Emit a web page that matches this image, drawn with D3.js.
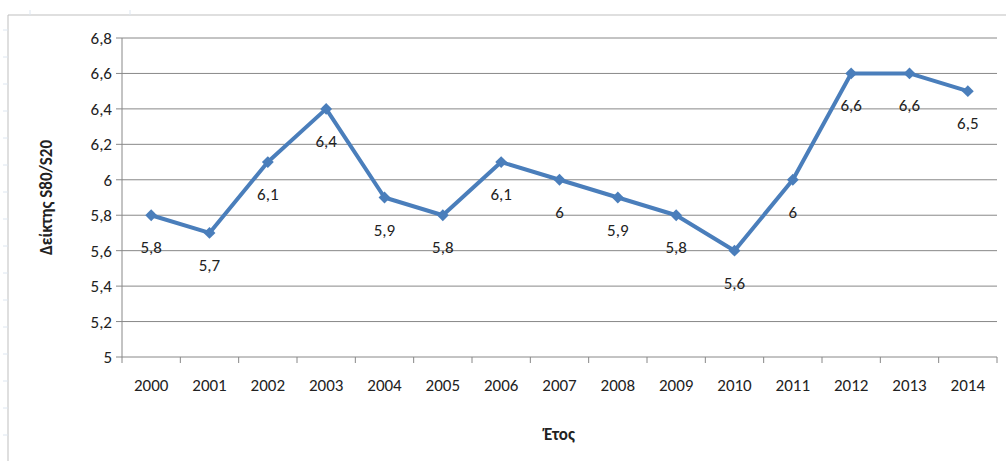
<!DOCTYPE html>
<html><head><meta charset="utf-8">
<script src="https://cdn.jsdelivr.net/npm/d3@7"></script>
<style>body{margin:0;background:#fff}text{font-family:Calibri,Carlito,"Liberation Sans",sans-serif}</style>
</head><body><div class="chart"></div>
<script>
const years = ["2000","2001","2002","2003","2004","2005","2006","2007","2008","2009","2010","2011","2012","2013","2014"];
const values = [5.8,5.7,6.1,6.4,5.9,5.8,6.1,6.0,5.9,5.8,5.6,6.0,6.6,6.6,6.5];
const yTicks = [5,5.2,5.4,5.6,5.8,6,6.2,6.4,6.6,6.8];

const W = 1006, H = 461;
const margin = {top: 38, right: 9, bottom: 104, left: 122};
const svg = d3.select(".chart").append("svg").attr("width", W).attr("height", H);

// outer frame
svg.append("path").attr("d", `M8,${H} V15 H${W}`).attr("fill", "none").attr("stroke", "#bfbfbf");
[30, 130].forEach(x => svg.append("line").attr("x1", x).attr("x2", x).attr("y1", 10).attr("y2", 15).attr("stroke", "#dde6f0"));
d3.range(30, H, 27).forEach(y => svg.append("line").attr("x1", 3).attr("x2", 8).attr("y1", y).attr("y2", y).attr("stroke", "#dde6f0"));

const x = d3.scaleBand().domain(years).range([margin.left, W - margin.right]);
const y = d3.scaleLinear().domain([5, 6.8]).range([H - margin.bottom, margin.top]);
const fmt = v => String(v).replace(".", ",");
const fs = 17;

const g = svg.append("g");
g.selectAll(".grid").data(yTicks).enter().append("line")
  .attr("x1", margin.left - 6).attr("x2", W - margin.right)
  .attr("y1", d => y(d)).attr("y2", d => y(d))
  .attr("stroke", "#888").attr("stroke-width", 1);
g.append("line").attr("x1", margin.left).attr("x2", margin.left)
  .attr("y1", y(6.8)).attr("y2", y(5)).attr("stroke", "#888");
g.selectAll(".ylab").data(yTicks).enter().append("text")
  .attr("x", margin.left - 10).attr("y", d => y(d)).attr("dy", "0.35em")
  .attr("text-anchor", "end").attr("font-size", fs).attr("fill", "#222").text(fmt);

// x axis ticks
const xb = years.map(d => x(d)).concat([W - margin.right]);
g.selectAll(".xt").data(xb).enter().append("line")
  .attr("x1", d => d).attr("x2", d => d).attr("y1", y(5)).attr("y2", y(5) + 6).attr("stroke", "#888");
g.selectAll(".xlab").data(years).enter().append("text")
  .attr("x", d => x(d) + x.bandwidth() / 2).attr("y", y(5) + 34)
  .attr("text-anchor", "middle").attr("font-size", fs).attr("fill", "#222").text(d => d);

const cx = (d, i) => x(years[i]) + x.bandwidth() / 2;
g.append("path").datum(values)
  .attr("d", d3.line().x(cx).y(d => y(d)))
  .attr("fill", "none").attr("stroke", "#4a7ebb").attr("stroke-width", 4).attr("stroke-linejoin", "round");
g.selectAll(".pt").data(values).enter().append("path")
  .attr("transform", (d, i) => `translate(${cx(d, i)},${y(d)}) rotate(45)`)
  .attr("d", d3.symbol(d3.symbolSquare, 70)).attr("fill", "#4a7ebb");
g.selectAll(".vl").data(values).enter().append("text")
  .attr("x", cx).attr("y", d => y(d) + 38)
  .attr("text-anchor", "middle").attr("font-size", fs).attr("fill", "#222").text(fmt);

svg.append("text").attr("transform", `translate(52,${(y(6.8) + y(5)) / 2}) rotate(-90)`)
  .attr("text-anchor", "middle").attr("font-size", fs).attr("font-weight", "bold").attr("fill", "#222").text("Δείκτης S80/S20");
svg.append("text").attr("x", (margin.left + W - margin.right) / 2).attr("y", 440)
  .attr("text-anchor", "middle").attr("font-size", fs).attr("font-weight", "bold").attr("fill", "#222").text("Έτος");
</script></body></html>
